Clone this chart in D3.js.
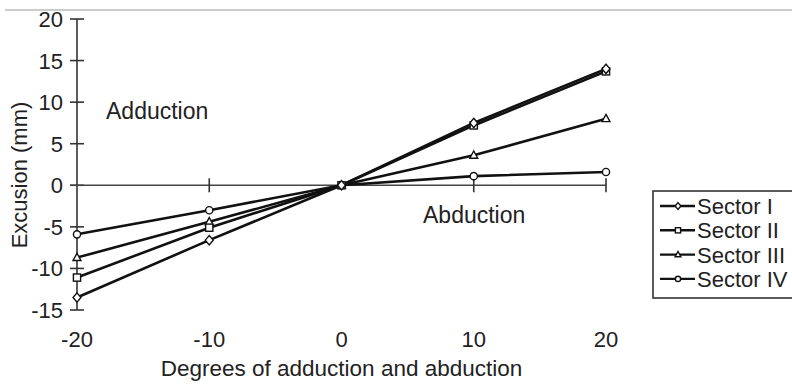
<!DOCTYPE html>
<html>
<head>
<meta charset="utf-8">
<script src="https://cdn.jsdelivr.net/npm/d3@7"></script>
<style>
  body { margin: 0; background: #fff; }
  svg text { font-family: "Liberation Sans", Arial, sans-serif; fill: #222; }
</style>
</head>
<body>
<svg class="chart" width="792" height="385"></svg>
<script>
const degrees = [-20, -10, 0, 10, 20]
const sectorI = [-13.5, -6.6, 0, 7.5, 14.0]
const sectorII = [-11.1, -5.1, 0, 7.2, 13.7]
const sectorIII = [-8.7, -4.4, 0, 3.6, 8.0]
const sectorIV = [-5.9, -3.0, 0, 1.1, 1.6]
const sectorNames = ['Sector I', 'Sector II', 'Sector III', 'Sector IV']
const yTicks = [20, 15, 10, 5, 0, -5, -10, -15]
const xTicks = [-20, -10, 0, 10, 20]

const series = [
  {name: sectorNames[0], values: sectorI, marker: 'diamond'},
  {name: sectorNames[1], values: sectorII, marker: 'square'},
  {name: sectorNames[2], values: sectorIII, marker: 'triangle'},
  {name: sectorNames[3], values: sectorIV, marker: 'circle'},
]

let svg = d3.select("svg.chart")

let x = d3.scaleLinear().domain([-20, 20]).range([77, 606])
let y = d3.scaleLinear().domain([-15, 20]).range([310, 19])

// rule at the top of the page
svg.append("line")
    .attr("x1", 5).attr("x2", 792)
    .attr("y1", 10).attr("y2", 10)
    .attr("stroke", "#999").attr("stroke-width", 1.2)

// y axis, ticks crossing the line
let yAxis = svg.append("g").attr("class", "y-axis")
yAxis.append("line")
    .attr("x1", x(-20)).attr("x2", x(-20))
    .attr("y1", y(20)).attr("y2", y(-15))
    .attr("stroke", "#333").attr("stroke-width", 1.6)
yAxis.selectAll(".tick")
  .data(yTicks)
  .enter().append("line")
    .attr("x1", x(-20) - 7).attr("x2", x(-20) + 7)
    .attr("y1", d => y(d)).attr("y2", d => y(d))
    .attr("stroke", "#333").attr("stroke-width", 1.6)
yAxis.selectAll("text")
  .data(yTicks)
  .enter().append("text")
    .attr("x", 63)
    .attr("y", d => y(d) + 8)
    .attr("text-anchor", "end")
    .style("font-size", "22px")
    .text(d => d)

// zero line with x ticks
let xAxis = svg.append("g").attr("class", "x-axis")
xAxis.append("line")
    .attr("x1", x(-20) - 7).attr("x2", x(20))
    .attr("y1", y(0)).attr("y2", y(0))
    .attr("stroke", "#444").attr("stroke-width", 1.6)
xAxis.selectAll(".tick")
  .data(xTicks.filter(d => d != -20 && d != 0))
  .enter().append("line")
    .attr("x1", d => x(d)).attr("x2", d => x(d))
    .attr("y1", y(0) - 7).attr("y2", y(0) + 7)
    .attr("stroke", "#333").attr("stroke-width", 1.6)
xAxis.selectAll("text")
  .data(xTicks)
  .enter().append("text")
    .attr("x", d => x(d))
    .attr("y", 347)
    .attr("text-anchor", "middle")
    .style("font-size", "22px")
    .text(d => d)

svg.append("text")
    .attr("x", x(0))
    .attr("y", 376)
    .attr("text-anchor", "middle")
    .style("font-size", "22.5px")
    .text("Degrees of adduction and abduction")

svg.append("text")
    .attr("transform", `translate(27, 175) rotate(-90)`)
    .attr("text-anchor", "middle")
    .style("font-size", "22px")
    .text("Excusion (mm)")

svg.append("text")
    .attr("x", 106).attr("y", 119)
    .style("font-size", "23px")
    .text("Adduction")

svg.append("text")
    .attr("x", 423).attr("y", 223)
    .style("font-size", "23px")
    .text("Abduction")

// markers
function drawMarker(g, type, s) {
  if (type == 'circle') {
    g.append("circle").attr("r", s)
  } else if (type == 'square') {
    g.append("rect").attr("x", -s).attr("y", -s).attr("width", 2 * s).attr("height", 2 * s)
  } else if (type == 'triangle') {
    g.append("path").attr("d", `M0,${-s * 1.2}L${s * 1.1},${s * 0.8}L${-s * 1.1},${s * 0.8}Z`)
  } else {
    g.append("path").attr("d", `M0,${-s * 1.3}L${s * 1.1},0L0,${s * 1.3}L${-s * 1.1},0Z`)
  }
  g.selectAll("*").attr("fill", "#fff").attr("stroke", "#111").attr("stroke-width", 1.4)
}

let line = d3.line()
    .x((d, i) => x(degrees[i]))
    .y(d => y(d))

let lines = svg.append("g").attr("class", "lines")
series.forEach(s => {
  lines.append("path")
      .attr("d", line(s.values))
      .attr("fill", "none")
      .attr("stroke", "#111")
      .attr("stroke-width", 2.6)
})

let markers = svg.append("g").attr("class", "markers")
series.slice().reverse().forEach(s => {
  s.values.forEach((v, i) => {
    let g = markers.append("g")
        .attr("transform", `translate(${x(degrees[i])}, ${y(v)})`)
    drawMarker(g, s.marker, 3.6)
  })
})

// legend
let legend = svg.append("g").attr("class", "legend")
legend.append("rect")
    .attr("x", 653).attr("y", 191)
    .attr("width", 160).attr("height", 107)
    .attr("fill", "#fff")
    .attr("stroke", "#333").attr("stroke-width", 1.6)

let item = legend.selectAll(".item")
  .data(series)
  .enter().append("g")
    .attr("class", "item")
    .attr("transform", (d, i) => `translate(0, ${206 + i * 24.3})`)

item.append("line")
    .attr("x1", 660).attr("x2", 695)
    .attr("stroke", "#111").attr("stroke-width", 2.4)
item.each(function(d) {
  let g = d3.select(this).append("g").attr("transform", "translate(678, 0)")
  drawMarker(g, d.marker, 2.6)
})
item.append("text")
    .attr("x", 697)
    .attr("y", 8)
    .style("font-size", "22px")
    .text(d => d.name)
</script>
</body>
</html>
